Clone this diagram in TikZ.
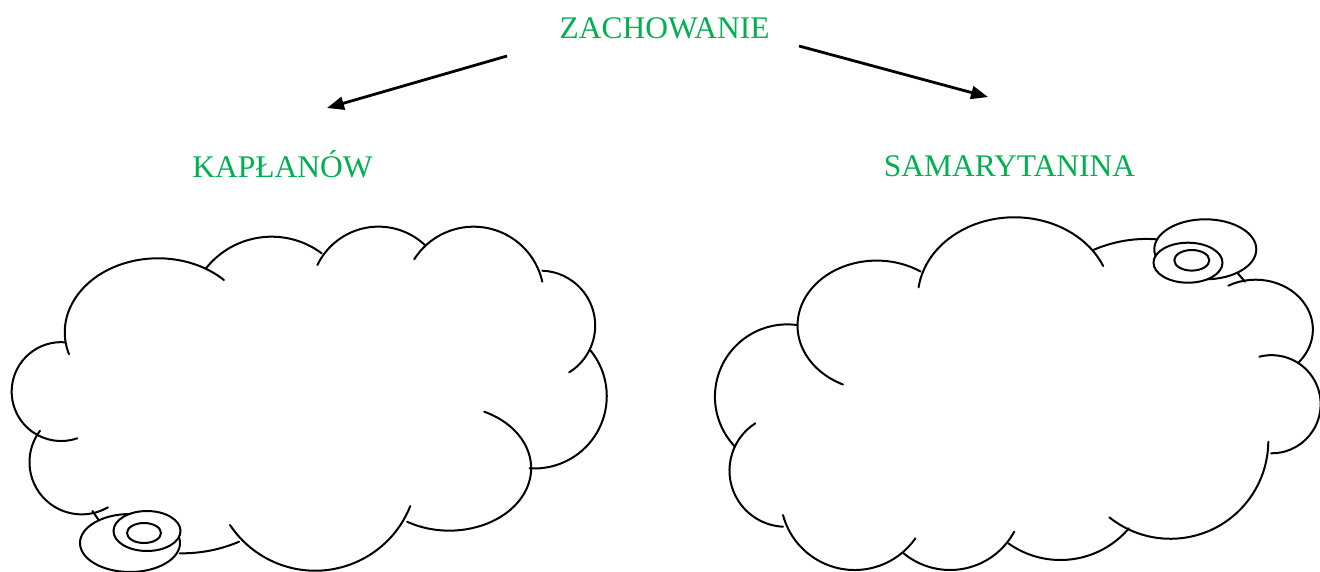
\documentclass[tikz,border=0pt]{standalone}
\usepackage{fontspec}
\setmainfont{Liberation Serif}
\usetikzlibrary{arrows.meta}
\definecolor{wordgreen}{RGB}{0,176,80}
\tikzset{
  lbl/.style={text=wordgreen, font=\fontsize{31.5}{38}\selectfont, inner sep=0pt, anchor=base},
  arrowline/.style={line width=2.8pt, -{Triangle[length=17pt,width=13pt]}},
  cloudline/.style={line width=2pt, line cap=round},
  puff/.style={line width=2pt, draw=black, fill=white},
}
% arc of an ellipse (x radius = k * y radius) through three points
% #1 = k, (#2,#3) start, (#4,#5) middle, (#6,#7) end
\newcommand\cloudarc[7]{%
\edef\clbx{\fpeval{((#4)-(#2))/(#1)}}%
\edef\clby{\fpeval{(#5)-(#3)}}%
\edef\clcx{\fpeval{((#6)-(#2))/(#1)}}%
\edef\clcy{\fpeval{(#7)-(#3)}}%
\edef\cldd{\fpeval{2*((\clbx)*(\clcy)-(\clby)*(\clcx))}}%
\edef\clbb{\fpeval{(\clbx)^2+(\clby)^2}}%
\edef\clcc{\fpeval{(\clcx)^2+(\clcy)^2}}%
\edef\clux{\fpeval{((\clcy)*(\clbb)-(\clby)*(\clcc))/(\cldd)}}%
\edef\cluy{\fpeval{((\clbx)*(\clcc)-(\clcx)*(\clbb))/(\cldd)}}%
\edef\clr{\fpeval{round(sqrt((\clux)^2+(\cluy)^2),4)}}%
\edef\clta{\fpeval{atand(-(\cluy),-(\clux))}}%
\edef\cltb{\fpeval{atand((\clby)-(\cluy),(\clbx)-(\clux))}}%
\edef\cltc{\fpeval{atand((\clcy)-(\cluy),(\clcx)-(\clux))}}%
\edef\cldab{\fpeval{(\cltb)-(\clta)-360*floor(((\cltb)-(\clta))/360)}}%
\edef\cldac{\fpeval{(\cltc)-(\clta)-360*floor(((\cltc)-(\clta))/360)}}%
\edef\cldel{\fpeval{round((\cldab)<(\cldac) ? (\cldac) : (\cldac)-360,4)}}%
\edef\clsa{\fpeval{round(\clta,4)}}%
\edef\clrx{\fpeval{round((\clr)*(#1),4)}}%
\draw[cloudline] (#2,#3) arc[start angle=\clsa, delta angle=\cldel, x radius=\clrx, y radius=\clr];}
\begin{document}
\begin{tikzpicture}[x=1pt,y=-1pt]
\useasboundingbox (0,0) rectangle (1320,571);
% labels
\node[lbl] (zach) at (664.5,38) {ZACHOWANIE};
\node[lbl] (kap) at (282.5,177) {KAPŁANÓW};
\node[lbl] (sam) at (1009.5,176) {SAMARYTANINA};
% arrows
\coordinate (lstart) at (507,56);
\coordinate (lend) at (327,108);
\coordinate (rstart) at (799,46);
\coordinate (rend) at (988,97);
\draw[arrowline] (lstart) -- (lend);
\draw[arrowline] (rstart) -- (rend);
% ---------------- left cloud ----------------
\cloudarc{1.26}{69}{354.3}{156.7}{258.3}{224}{280}
\cloudarc{1}{206}{268.3}{270}{236.7}{321.7}{253.3}
\cloudarc{1}{317.4}{265}{375.5}{226.7}{424.9}{245}
\cloudarc{1}{414.2}{259.3}{474.3}{226.7}{542.3}{281.7}
\cloudarc{1}{542.3}{270.7}{594.9}{320}{569.2}{372.3}
\cloudarc{1}{590.1}{350}{604.7}{413.3}{529.6}{468.3}
\cloudarc{1.31}{484.2}{411.7}{505.9}{513.3}{407.1}{521.7}
\cloudarc{1}{410.3}{506}{316.2}{570.7}{230}{525}
\cloudarc{1}{179.8}{553.3}{209.5}{550.7}{239.1}{541.7}
\cloudarc{1}{40}{430.7}{35.6}{486.7}{107.9}{507.3}
\cloudarc{1}{65}{342.3}{11.7}{390}{77.3}{438.3}
\coordinate (ltailA) at (92.5,511);
\coordinate (ltailB) at (99,520.5);
\draw[cloudline] (ltailA) -- (ltailB);
\draw[puff] (130,543) ellipse [x radius=50, y radius=29];
\draw[puff] (147,531) ellipse [x radius=33.5, y radius=20];
\draw[puff] (144,533) ellipse [x radius=17, y radius=10];
% ---------------- right cloud ----------------
\cloudarc{1.2}{918.6}{287.3}{1012.3}{217.3}{1103.2}{266}
\cloudarc{1.2167}{920.5}{271.5}{807.5}{294}{843}{384.5}
\cloudarc{1}{796.7}{325}{715}{400}{735}{446.7}
\cloudarc{1}{755.3}{423.3}{729.6}{466.7}{783}{526.7}
\cloudarc{1}{783}{515}{854.2}{570}{915.4}{538.3}
\cloudarc{1}{903.6}{553.3}{949}{570}{1014.2}{531.7}
\cloudarc{1}{1008.3}{543.3}{1059.7}{560}{1128.9}{528.3}
\cloudarc{1}{1109.3}{517.3}{1180}{538.3}{1268.3}{441.7}
\cloudarc{1}{1271.1}{453.3}{1319.8}{413.3}{1259.3}{356.7}
\cloudarc{1.15}{1228.3}{285.7}{1312.7}{333.3}{1298.3}{362.7}
\cloudarc{1}{1093.3}{250}{1115}{242.7}{1156.5}{239.3}
\coordinate (rtailA) at (1237.3,272.7);
\coordinate (rtailB) at (1245,281.7);
\draw[cloudline] (rtailA) -- (rtailB);
\draw[puff] (1205.3,249.3) ellipse [x radius=51, y radius=30];
\draw[puff] (1188,262.7) ellipse [x radius=34.5, y radius=20];
\draw[puff] (1191.8,260.3) ellipse [x radius=17.5, y radius=10.3];
\end{tikzpicture}
\end{document}
